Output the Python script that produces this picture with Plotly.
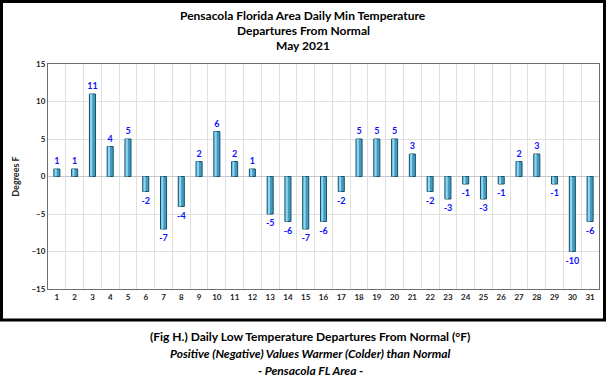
import plotly.graph_objects as go

days = list(range(1, 32))
departures = [1, 1, 11, 4, 5, -2, -7, -4, 2, 6, 2, 1, -5, -6, -7, -6, -2,
              5, 5, 5, 3, -2, -3, -1, -3, -1, 2, 3, -1, -10, -6]
y_ticks = [-15, -10, -5, 0, 5, 10, 15]
title_lines = ["Pensacola Florida Area Daily Min Temperature",
               "Departures From Normal", "May 2021"]
caption_lines = ["(Fig H.) Daily Low Temperature Departures From Normal (°F)",
                 "<i>Positive (Negative) Values Warmer (Colder) than Normal</i>",
                 "<i>- Pensacola FL Area -</i>"]

W, H = 608, 383
L, R, T, B = 48, 9, 64, 94
pw, ph = W - L - R, H - T - B

def px(x):
    return (x - L) / pw

def py(y):
    return (H - B - y) / ph

FONT = "Lato, 'Open Sans', Arial, sans-serif"

fig = go.Figure()
fig.add_trace(go.Bar(
    x=days, y=departures, width=0.34,
    marker=dict(color="#3E9CC2", line=dict(color="#1D4F66", width=1)),
    text=[str(v) for v in departures], textposition="outside",
    constraintext="none",
    textfont=dict(color="#1010FF", size=9, family=FONT, weight="bold"),
    cliponaxis=False, showlegend=False,
))
# highlight strip for 3D look
fig.add_trace(go.Bar(
    x=days, y=departures, width=0.12, offset=-0.13,
    marker=dict(color="#8FD6F0", line=dict(width=0)),
    showlegend=False, hoverinfo="skip",
))

fig.update_layout(
    width=W, height=H, barmode="overlay",
    margin=dict(l=L, r=R, t=T, b=B, autoexpand=False),
    paper_bgcolor="white", plot_bgcolor="white",
    font=dict(family=FONT, color="#222"),
    xaxis=dict(range=[0.5, 31.5], tickvals=days, ticktext=[str(d) for d in days],
               showgrid=False, zeroline=False, showline=True, linecolor="#6E6E6E",
               mirror=True, ticks="", tickfont=dict(size=8, weight="bold"),
               minor=dict(tick0=0.5, dtick=1, showgrid=True, gridcolor="#E0E0E0",
                          gridwidth=1, ticks="")),
    yaxis=dict(range=[-15, 15], tickvals=y_ticks, showgrid=True,
               gridcolor="#E0E0E0", zeroline=True, zerolinecolor="#C8C8C8",
               zerolinewidth=1, showline=True, linecolor="#6E6E6E", mirror=True,
               ticks="", tickfont=dict(size=8, weight="bold"),
               title=dict(text="Degrees F", font=dict(size=9, weight="bold"),
                          standoff=10)),
)

# outer border
fig.add_shape(type="rect", xref="paper", yref="paper",
              x0=px(1.5), x1=px(604.5), y0=py(320), y1=py(1.5),
              line=dict(color="black", width=3), fillcolor="rgba(0,0,0,0)",
              layer="above")

title_y = [16, 31, 46]
for t, yy in zip(title_lines, title_y):
    fig.add_annotation(text=t, xref="paper", yref="paper", x=px(303), y=py(yy),
                       showarrow=False, xanchor="center", yanchor="middle",
                       font=dict(size=12, weight="bold", color="black"))

cap_y = [336, 353, 370]
for t, yy in zip(caption_lines, cap_y):
    fig.add_annotation(text=t, xref="paper", yref="paper", x=px(310), y=py(yy),
                       showarrow=False, xanchor="center", yanchor="middle",
                       font=dict(size=12, weight="bold", color="black"))

fig.write_html("out.html", config={"displayModeBar": False},
               post_script="document.body.style.margin='0';document.body.style.overflow='hidden';")
